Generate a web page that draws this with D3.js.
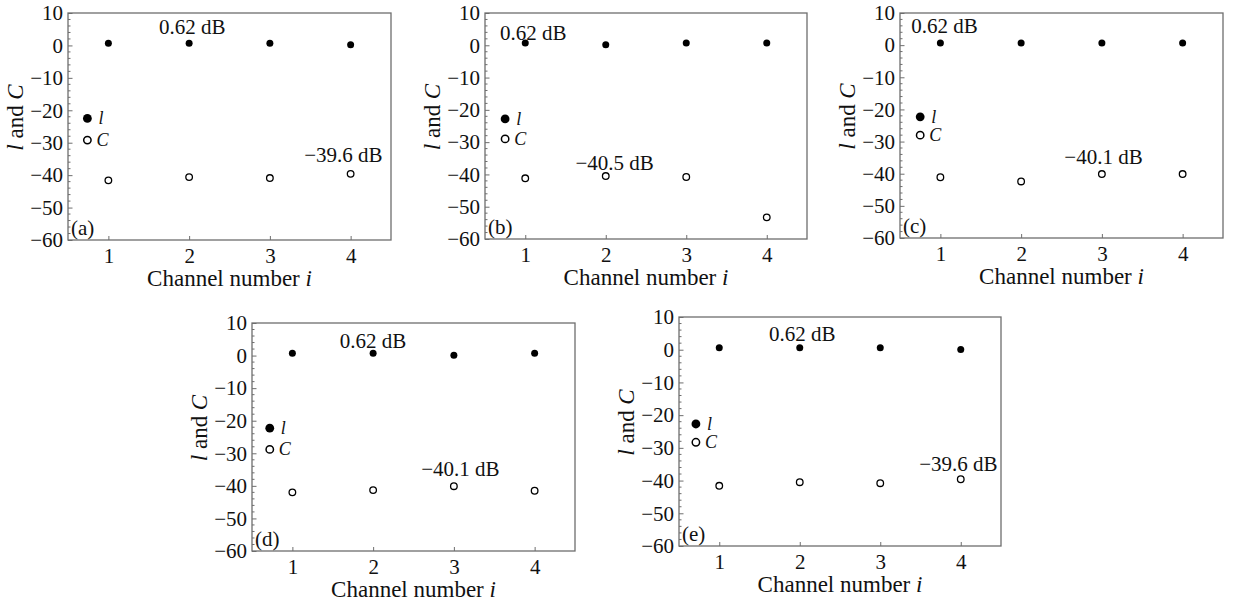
<!DOCTYPE html>
<html>
<head>
<meta charset="utf-8">
<script src="https://cdn.jsdelivr.net/npm/d3@7"></script>
<style>
	body { margin: 0; background: #fff; }
	svg { display: block; }
	text { font-family: "Liberation Serif", "DejaVu Serif", serif; fill: #111; }
</style>
</head>
<body>
<div id="chart"></div>
<script>
// channel numbers and axis ticks
var channels = [1, 2, 3, 4];
var yTicks = [10, 0, -10, -20, -30, -40, -50, -60];
var panelNames = ["(a)", "(b)", "(c)", "(d)", "(e)"];

// insertion loss l (dB), one array per panel
var lossA = [0.7, 0.7, 0.7, 0.2];
var lossB = [0.7, 0.2, 0.7, 0.7];
var lossC = [0.7, 0.7, 0.7, 0.7];
var lossD = [0.7, 0.7, 0.1, 0.7];
var lossE = [0.6, 0.6, 0.6, 0.1];

// crosstalk C (dB)
var crossA = [-41.6, -40.6, -40.9, -39.6];
var crossB = [-41.2, -40.5, -40.8, -53.3];
var crossC = [-41.1, -42.4, -40.1, -40.1];
var crossD = [-42.0, -41.3, -40.1, -41.5];
var crossE = [-41.6, -40.5, -40.8, -39.6];

var lossLabels = ["0.62 dB", "0.62 dB", "0.62 dB", "0.62 dB", "0.62 dB"];
var crossLabels = ["\u221239.6 dB", "\u221240.5 dB", "\u221240.1 dB", "\u221240.1 dB", "\u221239.6 dB"];

var lossAll = [lossA, lossB, lossC, lossD, lossE];
var crossAll = [crossA, crossB, crossC, crossD, crossE];

// where each panel sits on the page, and where its notes go (data units)
var boxes = [
	{left: 68, top: 13, right: 391, bottom: 240, lossAt: [2.04, 5.8], crossAt: [3.91, -33.8], keyX: 0.74, keyY: [-22.5, -29.2]},
	{left: 485, top: 13, right: 807, bottom: 239, lossAt: [1.10, 4.0], crossAt: [2.11, -36.2], keyX: 0.75, keyY: [-22.8, -29.0]},
	{left: 900, top: 13, right: 1223, bottom: 238, lossAt: [1.05, 6.0], crossAt: [3.02, -34.7], keyX: 0.75, keyY: [-22.3, -28.0]},
	{left: 252, top: 323, right: 575, bottom: 551, lossAt: [2.0, 4.6], crossAt: [3.08, -34.6], keyX: 0.72, keyY: [-22.3, -28.8]},
	{left: 679, top: 317, right: 1001, bottom: 546, lossAt: [2.03, 5.0], crossAt: [3.97, -34.7], keyX: 0.71, keyY: [-22.7, -28.3]}
];

var frameColor = "#6e6e6e";

var svg = d3.select("#chart")
	.append("svg")
		.attr("width", 1237)
		.attr("height", 605);

svg.append("rect")
	.attr("width", 1237)
	.attr("height", 605)
	.style("fill", "#fff");

var draw_panel = function(i) {
	var b = boxes[i];
	var x = d3.scaleLinear().domain([0.5, 4.5]).range([b.left, b.right]);
	var y = d3.scaleLinear().domain([-60, 10]).range([b.bottom, b.top]);
	var g = svg.append("g");

	// minor ticks every 2 dB on the left axis
	var minor = d3.range(-60, 10.1, 2).filter(function(v) { return v % 10 != 0; });
	g.selectAll(".minor")
		.data(minor)
		.enter().append("line")
			.attr("x1", b.left)
			.attr("x2", b.left + 2.5)
			.attr("y1", function(d) { return y(d); })
			.attr("y2", function(d) { return y(d); })
			.style("stroke", frameColor)
			.style("stroke-width", 1);

	var xAxis = d3.axisBottom(x)
		.tickValues(channels)
		.tickFormat(d3.format("d"))
		.tickSizeInner(-4)
		.tickSizeOuter(0)
		.tickPadding(8);

	var yAxis = d3.axisLeft(y)
		.tickValues(yTicks)
		.tickSizeInner(-4.5)
		.tickSizeOuter(0)
		.tickPadding(5);

	var gx = g.append("g")
		.attr("transform", "translate(0," + b.bottom + ")")
		.call(xAxis);
	var gy = g.append("g")
		.attr("transform", "translate(" + b.left + ",0)")
		.call(yAxis);

	[gx, gy].forEach(function(a) {
		a.select(".domain").remove();
		a.selectAll("line").style("stroke", frameColor).style("stroke-width", 1);
		a.selectAll("text")
			.style("font-family", "'Liberation Serif', serif")
			.style("font-size", "21px")
			.style("fill", "#111");
	});

	// frame
	g.append("rect")
		.attr("x", b.left)
		.attr("y", b.top)
		.attr("width", b.right - b.left)
		.attr("height", b.bottom - b.top)
		.style("fill", "none")
		.style("stroke", frameColor)
		.style("stroke-width", 1.3);

	// insertion loss points
	g.selectAll(".loss")
		.data(lossAll[i])
		.enter().append("circle")
			.attr("cx", function(d, j) { return x(channels[j]); })
			.attr("cy", function(d) { return y(d); })
			.attr("r", 3.5)
			.style("fill", "#000");

	// crosstalk points
	g.selectAll(".cross")
		.data(crossAll[i])
		.enter().append("circle")
			.attr("cx", function(d, j) { return x(channels[j]); })
			.attr("cy", function(d) { return y(d); })
			.attr("r", 3.3)
			.style("fill", "#fff")
			.style("stroke", "#000")
			.style("stroke-width", 1.3);

	// legend
	g.append("circle")
		.attr("cx", x(b.keyX))
		.attr("cy", y(b.keyY[0]))
		.attr("r", 4.4)
		.style("fill", "#000");
	g.append("circle")
		.attr("cx", x(b.keyX))
		.attr("cy", y(b.keyY[1]))
		.attr("r", 3.7)
		.style("fill", "#fff")
		.style("stroke", "#000")
		.style("stroke-width", 1.5);
	g.append("text")
		.attr("x", x(b.keyX) + 11)
		.attr("y", y(b.keyY[0]) + 6)
		.style("font-size", "18px")
		.style("font-style", "italic")
		.text("l");
	g.append("text")
		.attr("x", x(b.keyX) + 9)
		.attr("y", y(b.keyY[1]) + 6)
		.style("font-size", "18px")
		.style("font-style", "italic")
		.text("C");

	// notes
	g.append("text")
		.attr("x", x(b.lossAt[0]))
		.attr("y", y(b.lossAt[1]))
		.attr("dy", "0.35em")
		.attr("text-anchor", "middle")
		.style("font-size", "21px")
		.text(lossLabels[i]);
	g.append("text")
		.attr("x", x(b.crossAt[0]))
		.attr("y", y(b.crossAt[1]))
		.attr("dy", "0.35em")
		.attr("text-anchor", "middle")
		.style("font-size", "21px")
		.text(crossLabels[i]);
	g.append("text")
		.attr("x", b.left + 3)
		.attr("y", b.bottom - 5)
		.style("font-size", "21px")
		.text(panelNames[i]);

	// axis titles
	var xt = g.append("text")
		.attr("x", (b.left + b.right) / 2)
		.attr("y", b.bottom + 46)
		.attr("text-anchor", "middle")
		.style("font-size", "23px");
	xt.append("tspan").text("Channel number ");
	xt.append("tspan").style("font-style", "italic").text("i");

	var yt = g.append("text")
		.attr("transform", "translate(" + (b.left - 45) + "," + ((b.top + b.bottom) / 2 - 9) + ") rotate(-90)")
		.attr("text-anchor", "middle")
		.style("font-size", "23px");
	yt.append("tspan").style("font-style", "italic").text("l");
	yt.append("tspan").text(" and ");
	yt.append("tspan").style("font-style", "italic").text("C");
};

for (var i = 0; i < boxes.length; i++) {
	draw_panel(i);
}
</script>
</body>
</html>
